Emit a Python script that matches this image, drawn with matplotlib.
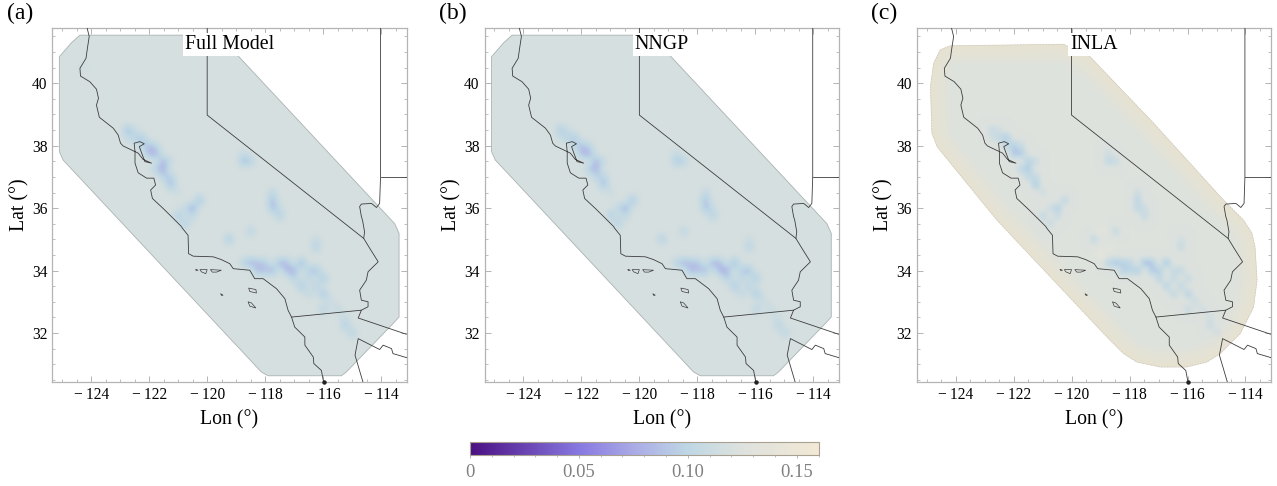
import matplotlib
matplotlib.use('Agg')
import matplotlib.pyplot as plt
import numpy as np
from matplotlib.colors import LinearSegmentedColormap, Normalize
from matplotlib.cm import ScalarMappable
from matplotlib.patches import Polygon
from matplotlib.ticker import FixedLocator, MultipleLocator

plt.rcParams['font.family'] = ['Liberation Serif', 'DejaVu Serif']

titles = ['Full Model', 'NNGP', 'INLA']
panel_tags = ['(a)', '(b)', '(c)']

# map outlines (lon, lat)
coast_lon = [-124.14, -124.07, -124.14, -124.18, -124.39, -124.37, -124.05, -123.82, -123.75, -123.82,
             -123.72, -123.24, -123.07, -122.99, -122.90, -122.49, -122.52, -122.32, -122.17, -122.34,
             -122.26, -122.15, -121.92, -122.21, -122.38, -122.49, -122.49, -122.38, -122.09, -121.84,
             -121.78, -121.95, -121.89, -121.52, -121.17, -120.89, -120.85, -120.66, -120.64, -120.48,
             -119.79, -119.51, -119.22, -119.10, -118.53, -118.36, -118.07, -117.61, -117.32, -117.21,
             -117.09, -116.98, -116.63, -116.63, -116.34, -116.32, -116.06, -115.98]
coast_lat = [41.76, 41.50, 41.07, 40.80, 40.48, 40.23, 40.05, 39.81, 39.52, 39.30,
             38.91, 38.56, 38.34, 38.08, 37.99, 37.81, 38.08, 38.13, 38.06, 37.97,
             37.76, 37.49, 37.44, 37.56, 37.76, 37.81, 37.44, 37.13, 36.96, 36.96,
             36.74, 36.58, 36.31, 35.99, 35.67, 35.41, 35.35, 35.13, 34.54, 34.46,
             34.44, 34.35, 34.22, 34.06, 34.01, 33.74, 33.74, 33.42, 33.10, 32.73,
             32.51, 32.19, 31.87, 31.61, 31.23, 31.02, 30.80, 30.41]

border_mex_lon = [-117.09, -114.68, -114.79, -113.13]
border_mex_lat = [32.51, 32.73, 32.48, 31.96]
river_lon = [-114.68, -114.45, -114.45, -114.68, -114.74, -114.51, -114.45, -114.10, -114.39, -114.60,
             -114.57, -114.64, -114.68, -114.74, -114.68, -114.33, -114.16, -114.05, -114.02, -114.02]
river_lat = [32.73, 32.84, 33.00, 33.05, 33.37, 33.69, 33.96, 34.28, 34.71, 35.03,
             35.24, 35.61, 35.73, 36.05, 36.13, 36.15, 36.02, 36.15, 36.99, 41.76]
utah_az_lon = [-114.02, -113.12]
utah_az_lat = [36.99, 36.99]
ca_nv_lon = [-120.0, -120.0, -114.60]
ca_nv_lat = [41.76, 38.98, 35.03]
gulf_lon = [-114.62, -114.90, -114.79, -114.05, -113.93, -113.64, -113.59, -113.12]
gulf_lat = [30.41, 31.29, 31.82, 31.47, 31.61, 31.50, 31.34, 31.21]

island_1_lon = [-120.25, -120.00, -120.05, -120.20]
island_1_lat = [34.03, 34.03, 33.90, 33.96]
island_2_lon = [-119.89, -119.51, -119.68, -119.82]
island_2_lat = [34.03, 34.01, 33.95, 33.95]
island_3_lon = [-120.40, -120.31, -120.38]
island_3_lat = [34.04, 34.01, 34.00]
island_4_lon = [-118.57, -118.32, -118.30, -118.53]
island_4_lat = [33.44, 33.39, 33.28, 33.33]
island_5_lon = [-118.59, -118.47, -118.32, -118.53]
island_5_lat = [33.00, 32.96, 32.80, 32.86]
island_6_lon = [-119.54, -119.45, -119.50]
island_6_lat = [33.26, 33.21, 33.20]

# prediction domains
dom_lon = [-124.39, -119.60, -113.53, -113.38, -113.38, -113.59, -115.20, -115.37, -117.90, -118.13,
           -124.97, -125.10, -125.10, -124.68]
dom_lat = [41.54, 41.54, 35.50, 35.19, 32.51, 32.30, 30.75, 30.63, 30.63, 30.75,
           37.54, 37.81, 40.85, 41.30]
inla_lon = [-124.18, -120.28, -119.36, -117.17, -114.70, -114.07, -113.78, -113.67, -113.60, -113.72,
            -114.18, -114.87, -115.33, -116.02, -116.94, -117.75, -118.21, -118.78, -122.57, -124.18,
            -124.64, -124.82, -124.87, -124.76, -124.53]
inla_lat = [41.20, 41.25, 40.85, 38.72, 36.20, 35.62, 35.20, 34.76, 33.69, 32.83,
            31.98, 31.34, 31.07, 30.91, 30.91, 31.07, 31.34, 31.87, 35.61, 37.44,
            37.97, 38.40, 39.90, 40.64, 41.07]

# field values on a 0.25 degree grid, only where they differ from the background
base_vals = [0.119, 0.119, 0.125]
cell_lon = [-124.25, -122.75, -122.50, -122.25, -122.00, -121.75, -121.50, -121.50, -121.25, -122.00,
            -121.75, -120.50, -120.25, -121.00, -120.75, -118.75, -118.50, -117.75, -117.75, -117.50,
            -118.50, -119.25, -116.25, -118.50, -118.25, -117.50, -117.25, -116.75, -117.00, -117.75,
            -116.25, -116.00, -116.75, -116.00, -116.00, -115.25, -115.00, -115.50, -118.00, -117.00,
            -119.00, -118.75, -119.00]
cell_lat = [40.50, 38.50, 38.25, 38.25, 37.75, 37.75, 37.50, 37.25, 36.75, 38.00,
            37.25, 36.00, 36.25, 35.75, 35.50, 37.50, 37.50, 36.25, 36.00, 35.75,
            35.25, 35.00, 34.75, 34.25, 34.00, 34.25, 34.00, 34.25, 34.00, 34.00,
            34.00, 33.75, 33.50, 33.25, 32.75, 32.25, 32.00, 32.75, 34.25, 33.75,
            34.50, 34.75, 35.25]
vals_a = [0.110, 0.078, 0.092, 0.088, 0.078, 0.076, 0.078, 0.076, 0.076, 0.084,
          0.088, 0.072, 0.080, 0.082, 0.088, 0.080, 0.092, 0.080, 0.082, 0.088,
          0.092, 0.082, 0.088, 0.078, 0.080, 0.078, 0.078, 0.074, 0.078, 0.078,
          0.080, 0.082, 0.080, 0.080, 0.090, 0.086, 0.090, 0.100, 0.092, 0.092,
          0.119, 0.119, 0.119]
vals_b = [0.119, 0.082, 0.094, 0.088, 0.078, 0.076, 0.078, 0.078, 0.078, 0.086,
          0.088, 0.074, 0.080, 0.084, 0.090, 0.084, 0.094, 0.082, 0.084, 0.090,
          0.094, 0.086, 0.092, 0.078, 0.078, 0.076, 0.076, 0.076, 0.076, 0.080,
          0.080, 0.084, 0.082, 0.080, 0.092, 0.092, 0.096, 0.102, 0.088, 0.090,
          0.119, 0.119, 0.119]
vals_c = [0.125, 0.106, 0.102, 0.090, 0.086, 0.090, 0.094, 0.092, 0.088, 0.094,
          0.098, 0.094, 0.102, 0.102, 0.108, 0.102, 0.108, 0.098, 0.102, 0.104,
          0.106, 0.104, 0.106, 0.088, 0.094, 0.084, 0.090, 0.086, 0.094, 0.092,
          0.104, 0.106, 0.096, 0.094, 0.106, 0.108, 0.112, 0.112, 0.100, 0.098,
          0.138, 0.132, 0.134]

# weaker cells round the spots
halo_lon = [-122.75, -122.50, -122.25, -121.75, -121.25, -121.25, -121.50, -121.00, -120.50, -120.75,
            -118.75, -117.75, -117.50, -118.75, -118.25, -118.00, -117.25, -116.50, -116.50, -116.25,
            -116.50, -115.75, -115.25, -116.25]
halo_lat = [38.25, 38.50, 38.00, 38.00, 37.50, 37.00, 37.00, 36.50, 35.75, 36.00,
            37.75, 36.50, 36.00, 34.25, 34.25, 34.00, 34.25, 34.00, 33.75, 33.50,
            33.25, 33.00, 32.50, 35.00]
halo_a = [0.108, 0.108, 0.098, 0.102, 0.106, 0.094, 0.094, 0.108, 0.100, 0.102,
          0.106, 0.098, 0.106, 0.094, 0.088, 0.088, 0.084, 0.094, 0.100, 0.092,
          0.100, 0.104, 0.106, 0.106]
halo_b = [0.110, 0.110, 0.098, 0.102, 0.106, 0.096, 0.096, 0.108, 0.100, 0.100,
          0.106, 0.100, 0.106, 0.094, 0.088, 0.088, 0.084, 0.092, 0.098, 0.094,
          0.100, 0.106, 0.110, 0.108]
halo_c = [0.114, 0.115, 0.102, 0.108, 0.110, 0.104, 0.102, 0.112, 0.108, 0.112,
          0.112, 0.110, 0.112, 0.100, 0.096, 0.098, 0.090, 0.106, 0.104, 0.102,
          0.102, 0.110, 0.114, 0.114]
all_vals = [vals_a + halo_a, vals_b + halo_b, vals_c + halo_c]
all_cell_lon = cell_lon + halo_lon
all_cell_lat = cell_lat + halo_lat

cbar_positions = [0.0, 0.05, 0.075, 0.10, 0.125, 0.16]
cbar_colors = ['#4b0f82', '#8778e1', '#aaaae6', '#bed7e4', '#dee2de', '#f2e8d5']

xlim = (-125.34, -113.12)
ylim = (30.43, 41.76)
W, H = 1277.0, 486.0
line_col = '#3c3c3c'
frame_col = '#b4b4b4'

cmap = LinearSegmentedColormap.from_list(
    'field', [(p / 0.16, c) for p, c in zip(cbar_positions, cbar_colors)])
norm = Normalize(0, 0.16)


def minus_label(x, pos=None):
    return '\u2212\u2009%d' % abs(x)


def draw_map(ax):
    for lo, la in [(coast_lon, coast_lat), (border_mex_lon, border_mex_lat), (river_lon, river_lat),
                   (utah_az_lon, utah_az_lat), (ca_nv_lon, ca_nv_lat), (gulf_lon, gulf_lat)]:
        ax.plot(lo, la, color=line_col, lw=0.6, zorder=4)
    islands = [(island_1_lon, island_1_lat), (island_2_lon, island_2_lat), (island_3_lon, island_3_lat),
               (island_4_lon, island_4_lat), (island_5_lon, island_5_lat), (island_6_lon, island_6_lat)]
    for lo, la in islands:
        ax.fill(lo, la, facecolor='none', edgecolor=line_col, lw=0.5, zorder=4)
    ax.plot(coast_lon[-1], 30.44, marker='o', ms=2.2, color='#222222', zorder=4, clip_on=False)


fig = plt.figure(figsize=(W / 100, H / 100), dpi=100)

for i, left_px in enumerate([52.4, 484.6, 916.8]):
    ax = fig.add_axes([left_px / W, 1 - 382 / H, 354.2 / W, 353.7 / H])

    # fill the sparse grid
    grid_lon = np.arange(-125.5, -112.9, 0.25)
    grid_lat = np.arange(30.25, 42.0, 0.25)
    field = np.full((len(grid_lat), len(grid_lon)), base_vals[i])
    for lo, la, v in zip(all_cell_lon, all_cell_lat, all_vals[i]):
        field[np.argmin(np.abs(grid_lat - la)), np.argmin(np.abs(grid_lon - lo))] = v

    extent = (grid_lon[0] - 0.125, grid_lon[-1] + 0.125, grid_lat[0] - 0.125, grid_lat[-1] + 0.125)
    im = ax.imshow(field, origin='lower', extent=extent, cmap=cmap, norm=norm, aspect='auto',
                   interpolation='gaussian' if i == 2 else 'bicubic', zorder=1)

    lons, lats = (inla_lon, inla_lat) if i == 2 else (dom_lon, dom_lat)
    clip = Polygon(np.column_stack([lons, lats]), closed=True, transform=ax.transData,
                   facecolor='none', edgecolor='none')
    ax.add_patch(clip)
    im.set_clip_path(clip)

    if i == 2:
        # tan band along the INLA boundary
        for lw_band in [26, 20, 14, 9, 5]:
            band = Polygon(np.column_stack([lons, lats]), closed=True, facecolor='none',
                           edgecolor='#f0e4cc', alpha=0.16, lw=lw_band, zorder=2, joinstyle='round')
            ax.add_patch(band)
            band.set_clip_path(clip)
        ax.add_patch(Polygon(np.column_stack([lons, lats]), closed=True, facecolor='none',
                             edgecolor='#cfc7b8', lw=0.5, ls=(0, (3, 1)), zorder=3))
    else:
        ax.add_patch(Polygon(np.column_stack([lons, lats]), closed=True, facecolor='none',
                             edgecolor='#aab2b2', lw=0.6, zorder=3, joinstyle='round'))

    draw_map(ax)

    ax.set_xlim(xlim)
    ax.set_ylim(ylim)
    ax.xaxis.set_major_locator(FixedLocator([-124, -122, -120, -118, -116, -114]))
    ax.xaxis.set_major_formatter(minus_label)
    ax.xaxis.set_minor_locator(MultipleLocator(0.5))
    ax.yaxis.set_major_locator(FixedLocator([32, 34, 36, 38, 40]))
    ax.yaxis.set_minor_locator(MultipleLocator(0.5))
    ax.tick_params(which='major', direction='in', length=4.2, width=0.7, color=frame_col, top=True,
                   right=True, labelsize=11.2)
    ax.tick_params(which='minor', direction='in', length=2.2, width=0.6, color=frame_col, top=True, right=True)
    ax.tick_params(axis='x', which='major', pad=3.5)
    ax.tick_params(axis='y', which='major', pad=3.5)
    for s in ax.spines.values():
        s.set_color(frame_col)
        s.set_linewidth(0.9)

    ax.set_xlabel('Lon (\u00b0)', fontsize=14.2, labelpad=5)
    ax.set_ylabel('Lat (\u00b0)', fontsize=14.2, labelpad=2)

    ax.text((left_px + 177) / W, 1 - 44.5 / H, titles[i], transform=fig.transFigure, fontsize=14.3,
            ha='center', va='center', zorder=6,
            bbox=dict(facecolor='white', edgecolor='none', pad=1.5))
    fig.text((left_px - 45.5) / W, 1 - 13 / H, panel_tags[i], fontsize=17, ha='left', va='center')

# colour bar
cax = fig.add_axes([470 / W, 1 - 454.7 / H, 348.5 / W, 13 / H])
cb = fig.colorbar(ScalarMappable(norm=norm, cmap=cmap), cax=cax, orientation='horizontal')
cb.set_ticks([0, 0.05, 0.10, 0.15], labels=['0', '0.05', '0.10', '0.15'])
cb.ax.xaxis.set_minor_locator(MultipleLocator(0.01))
cb.ax.tick_params(which='major', length=2.5, width=0.7, color=frame_col, labelcolor='#808080',
                  labelsize=13.3, pad=4.5)
cb.ax.tick_params(which='minor', length=1.5, width=0.6, color=frame_col)
cb.outline.set_edgecolor('#a8a090')
cb.outline.set_linewidth(0.8)

fig.savefig('out.png', dpi=100)
